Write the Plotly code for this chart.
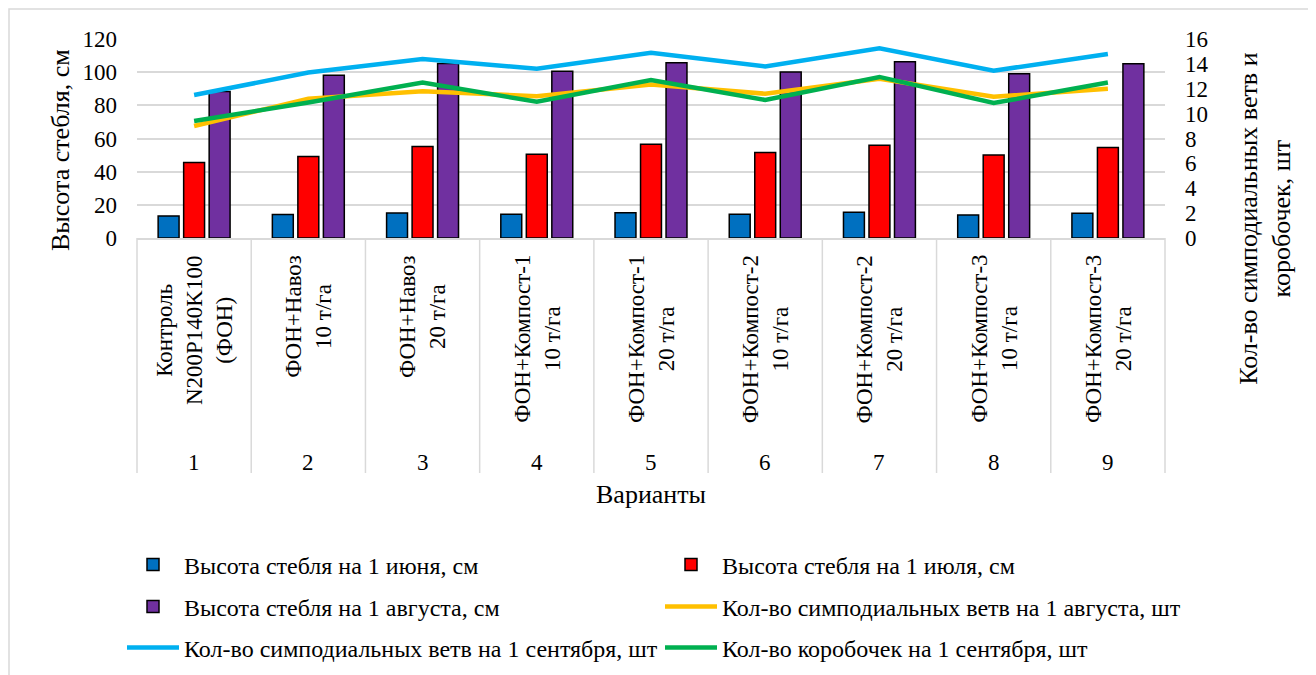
import plotly.graph_objects as go

numbers = ["1", "2", "3", "4", "5", "6", "7", "8", "9"]
labels = [
    "Контроль<br>N200P140K100<br>(ФОН)",
    "ФОН+Навоз<br>10 т/га",
    "ФОН+Навоз<br>20 т/га",
    "ФОН+Компост-1<br>10 т/га",
    "ФОН+Компост-1<br>20 т/га",
    "ФОН+Компост-2<br>10 т/га",
    "ФОН+Компост-2<br>20 т/га",
    "ФОН+Компост-3<br>10 т/га",
    "ФОН+Компост-3<br>20 т/га",
]

h_june = [13.3, 14.1, 15.1, 14.3, 15.3, 14.3, 15.5, 13.9, 14.9]
h_july = [45.5, 49.2, 55.2, 50.5, 56.6, 51.6, 56.0, 50.1, 54.6]
h_aug = [88.4, 98.2, 105.3, 100.5, 105.7, 100.1, 106.3, 99.0, 105.1]
symp_aug = [9.0, 11.2, 11.8, 11.4, 12.35, 11.6, 12.8, 11.35, 12.0]
symp_sep = [11.5, 13.3, 14.4, 13.6, 14.9, 13.8, 15.25, 13.45, 14.8]
bolls_sep = [9.4, 10.9, 12.5, 10.95, 12.7, 11.1, 12.95, 10.85, 12.5]

FONT = "Liberation Serif, Times New Roman, serif"
GRID = "#D9D9D9"
OFF = 8                      # page body margin in the browser
W, H = 1316 - OFF, 675 - OFF

fig = go.Figure()
bar_specs = [
    ("Высота стебля на 1 июня, см", h_june, "#0070C0", "legend"),
    ("Высота стебля на 1 июля, см", h_july, "#FF0000", "legend2"),
    ("Высота стебля на 1 августа, см", h_aug, "#7030A0", "legend3"),
]
for name, vals, col, lg in bar_specs:
    fig.add_trace(go.Bar(x=numbers, y=vals, name=name,
                         marker=dict(color=col, line=dict(color="black", width=1.5)), legend=lg))
line_specs = [
    ("Кол-во симподиальных ветв на 1 августа, шт", symp_aug, "#FFC000", "legend4"),
    ("Кол-во симподиальных ветв на 1 сентября, шт", symp_sep, "#00B0F0", "legend5"),
    ("Кол-во коробочек на 1 сентября, шт", bolls_sep, "#00B050", "legend6"),
]
for name, vals, col, lg in line_specs:
    fig.add_trace(go.Scatter(x=numbers, y=vals, name=name, mode="lines", yaxis="y2",
                             line=dict(color=col, width=4.5), legend=lg))


def leg(px_x, px_y):
    return dict(orientation="v", font=dict(family=FONT, size=24, color="black"),
                xanchor="left", yanchor="middle", xref="container", yref="container",
                itemwidth=52,
                bgcolor="rgba(0,0,0,0)", x=(px_x - OFF) / W, y=1 - (px_y - OFF) / H)


col1, col2 = 122, 660
rows = [565, 607, 648]

fig.update_layout(
    width=W, height=H,
    margin=dict(l=137 - OFF, r=1316 - 1165, t=39 - OFF, b=675 - 238, autoexpand=False),
    paper_bgcolor="white", plot_bgcolor="white",
    font=dict(family=FONT, color="black"),
    barmode="group", bargap=0.33, bargroupgap=0.18,
    xaxis=dict(type="category", showticklabels=False, automargin=False,
               showline=True, linecolor=GRID, linewidth=1.5, ticks="", range=[-0.5, 8.5]),
    yaxis=dict(range=[0, 120], dtick=20, showgrid=True, gridcolor=GRID, gridwidth=1.5,
               zeroline=False, automargin=False, ticks="", ticklabelstandoff=19,
               tickfont=dict(family=FONT, size=23, color="black")),
    yaxis2=dict(range=[0, 16], dtick=2, overlaying="y", side="right", showgrid=False, zeroline=False,
                automargin=False, ticks="", ticklabelstandoff=19,
                tickfont=dict(family=FONT, size=23, color="black")),
    legend=leg(col1, rows[0]),
    legend2=leg(col2, rows[0]),
    legend3=leg(col1, rows[1]),
    legend4=leg(col2, rows[1]),
    legend5=leg(col1, rows[2]),
    legend6=leg(col2, rows[2]),
    showlegend=True,
)

# axis titles
fig.add_annotation(x=-0.0749, xref="paper", y=0.442, yref="paper", text="Высота стебля, см",
                   textangle=-90, showarrow=False, xanchor="center", yanchor="middle",
                   font=dict(family=FONT, size=26, color="black"))
fig.add_annotation(x=1.097, xref="paper", y=0.095, yref="paper",
                   text="Кол-во симподиальных ветв и<br>коробочек, шт",
                   textangle=-90, showarrow=False, xanchor="center", yanchor="middle", align="center",
                   font=dict(family=FONT, size=26, color="black"))

# category labels under the axis
for i, (num, lab) in enumerate(zip(numbers, labels)):
    fig.add_annotation(x=i, xref="x", y=-0.0754, yref="paper", text=lab, textangle=-90,
                       showarrow=False, xanchor="center", yanchor="top", align="center",
                       font=dict(family=FONT, size=23, color="black"))
    fig.add_annotation(x=i, xref="x", y=-1.126, yref="paper", text=num,
                       showarrow=False, xanchor="center", yanchor="middle",
                       font=dict(family=FONT, size=23, color="black"))
fig.add_annotation(x=0.5, xref="paper", y=-1.291, yref="paper", text="Варианты",
                   showarrow=False, xanchor="center", yanchor="middle",
                   font=dict(family=FONT, size=26, color="black"))

# dividers between categories (axis domain split into equal category bands)
n = len(numbers)
for j in range(n + 1):
    fig.add_shape(type="line", xref="paper", yref="paper", x0=j / n, x1=j / n, y0=0, y1=-1.181,
                  line=dict(color=GRID, width=1.5))

# chart frame (left/top edges sit at the page edge of the figure)
fig.add_shape(type="rect", xref="paper", yref="paper",
              x0=(OFF + 1 - 137) / 1028, x1=(1312 - 137) / 1028, y0=-2.3, y1=(238 - OFF - 1) / 199,
              line=dict(color=GRID, width=1.5), fillcolor="rgba(0,0,0,0)", layer="below")

fig.write_html("out.html")
